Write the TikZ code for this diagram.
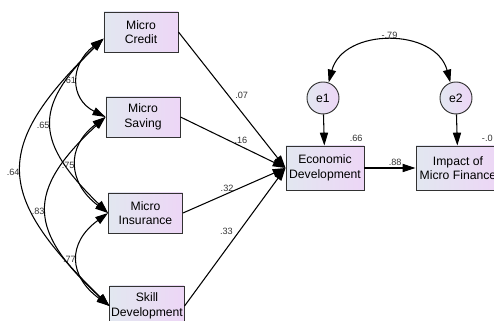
\documentclass[tikz,border=0pt]{standalone}
\usepackage{fontspec}
\setmainfont{Liberation Sans}
\usetikzlibrary{arrows.meta,shapes.geometric}
\definecolor{boxleft}{RGB}{226,231,240}
\definecolor{boxright}{RGB}{237,214,246}
\definecolor{edgegray}{RGB}{50,50,50}

\begin{document}
\begin{tikzpicture}[
    x=0.03cm, y=0.03cm,
    font=\fontsize{10.4}{12.5}\selectfont,
    obs/.style={rectangle, draw=edgegray, line width=0.8pt, left color=boxleft, right color=boxright, minimum width=2.22cm, minimum height=1.2cm, align=center, inner sep=1pt},
    err/.style={circle, draw=edgegray, line width=0.8pt, left color=boxleft, right color=boxright, minimum size=0.96cm, inner sep=0pt},
    coef/.style={font=\fontsize{7.8}{9}\selectfont, text=black!80, inner sep=1.5pt},
    effect/.style={-{Triangle[length=11pt, width=7pt]}, line width=0.9pt},
    cov/.style={{Triangle[length=11pt, width=7pt]}-{Triangle[length=11pt, width=7pt]}, line width=0.9pt}
]
    \clip (0,0) rectangle (494,-321);

    % Predictors (Left)
    \node[obs] (credit) at (141, -32) {Micro\\Credit};
    \node[obs] (saving) at (143, -117) {Micro\\Saving};
    \node[obs] (insurance) at (145.5, -213) {Micro\\Insurance};
    \node[obs] (skill) at (147, -306) {Skill\\Development};

    % Outcomes (Right)
    \node[obs, minimum width=2.34cm, minimum height=1.32cm] (ed) at (325, -168) {Economic\\Development};
    \node[obs, minimum width=2.52cm, minimum height=1.32cm] (impact) at (458, -168) {Impact of\\Micro Finance};
    \node[err] (e1) at (323, -98) {e1};
    \node[err] (e2) at (456, -98) {e2};

    % Correlations between predictors
    \draw[cov] (credit.190) .. controls +(-34,-26) and +(-36,18) .. node[coef, left] {.61} (saving.west);
    \draw[cov] (credit.190) .. controls +(-72,-70) and +(-72,70) .. node[coef, left] {.65} (insurance.west);
    \draw[cov] (credit.190) .. controls +(-113,-110) and +(-113,110) .. node[coef, left] {.64} (skill.west);
    \draw[cov] (saving.west) .. controls +(-40,-30) and +(-40,30) .. node[coef, left] {.75} (insurance.west);
    \draw[cov] (saving.west) .. controls +(-81,-75) and +(-81,75) .. node[coef, left] {.83} (skill.west);
    \draw[cov] (insurance.west) .. controls +(-41,-30) and +(-41,30) .. node[coef, left] {.77} (skill.west);

    % Paths into Economic Development
    \draw[effect] (credit.east) -- node[coef, pos=0.51, above right] {.07} (ed.west);
    \draw[effect] (saving.east) -- node[coef, pos=0.575, above] {.16} (ed.west);
    \draw[effect] (insurance.east) -- node[coef, pos=0.43, above] {.32} (ed.west);
    \draw[effect] (skill.east) -- node[coef, pos=0.5, above left] {.33} (ed.west);
    \draw[effect] (ed) -- node[coef, pos=0.6, above] {.88} (impact);

    % Residuals
    \draw[effect] (e1) -- (ed);
    \draw[effect] (e2) -- (impact);
    \draw[cov] (e1.70) to[out=75, in=105, looseness=1.2] node[coef, above] {-.79} (e2.110);

    % Squared multiple correlations
    \node[coef, anchor=south east, yshift=2pt] (r1) at (ed.north east) {.66};
    \node[coef, anchor=south east, yshift=2pt, xshift=-5pt] (r2) at (impact.north east) {-.0};

\end{tikzpicture}
\end{document}
